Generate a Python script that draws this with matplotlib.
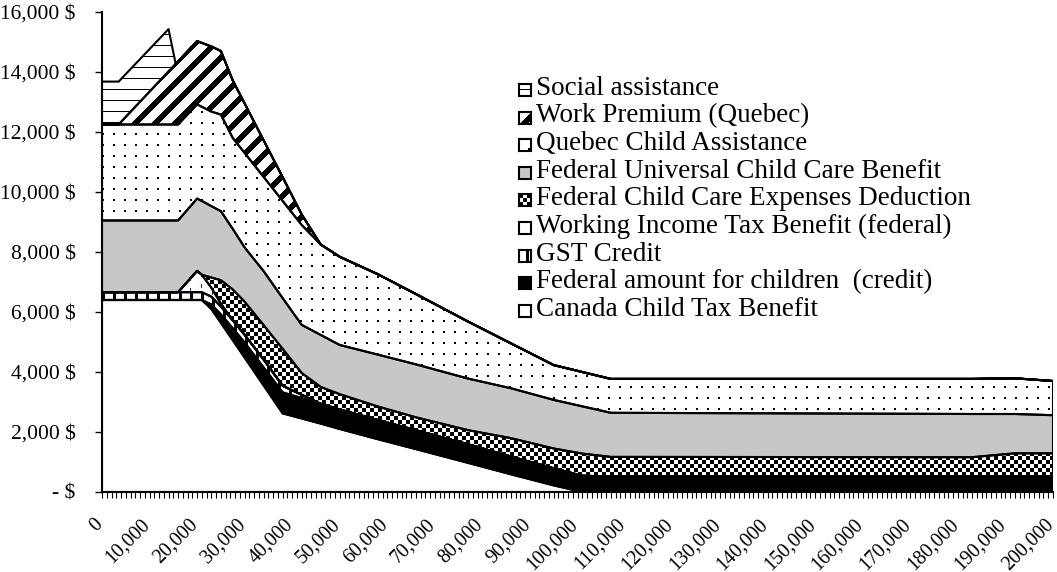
import numpy as np
import matplotlib
matplotlib.use("Agg")
import matplotlib.pyplot as plt
from matplotlib.patches import Polygon
from matplotlib.ticker import MultipleLocator, FuncFormatter
from matplotlib.transforms import ScaledTranslation

plt.rcParams["font.family"] = "Liberation Serif"

# family income ($) where the curves change slope
incomes = [0, 3500, 14000, 15500, 16000, 20000, 21000, 23000, 25000, 27500,
           30000, 34000, 38000, 42000, 46000, 50000, 58000, 66000, 77000,
           86000, 95000, 101000, 107000, 183000, 192000, 200000]

# benefits ($), from the bottom of the stack to the top
cctb = [6400, 6400, 6400, 6400, 6400, 6400, 6400, 6100, 5640, 5060,
        4480, 3550, 2620, 2450, 2280, 2100, 1760, 1430, 970,
        590, 220, 0, 0, 0, 0, 0]
fed_children = [0, 0, 0, 0, 0, 0, 0, 150, 280, 400,
                500, 600, 700, 680, 660, 650, 640, 630, 620,
                590, 570, 540, 520, 520, 520, 520]
gst = [260, 260, 260, 260, 260, 260, 260, 260, 260, 260,
       260, 260, 220, 110, 0, 0, 0, 0, 0,
       0, 0, 0, 0, 0, 0, 0]
witb = [0, 0, 0, 0, 0, 710, 580, 300, 100, 0,
        0, 0, 0, 0, 0, 0, 0, 0, 0,
        0, 0, 0, 0, 0, 0, 0]
child_care_ded = [0, 0, 0, 0, 0, 0, 0, 340, 780, 1030,
                  1100, 1150, 1230, 725, 560, 510, 450, 430, 470,
                  615, 660, 740, 650, 640, 770, 770]
uccb = [2390, 2390, 2390, 2390, 2390, 2410, 2460, 2380, 2300, 2020,
        1810, 1800, 1690, 1605, 1735, 1640, 1730, 1765, 1720,
        1663, 1620, 1575, 1470, 1440, 1310, 1270]
qc_child = [3200, 3200, 3200, 3200, 3200, 3140, 3140, 3150, 3220, 3030,
            3150, 3140, 3240, 3330, 3015, 2940, 2680, 2345, 1900,
            1497, 1160, 1145, 1130, 1170, 1190, 1140]
work_premium = [0, 0, 1770, 2020, 2105, 2110, 2130, 2170, 2120, 1920,
                1650, 1220, 790, 350, 0, 0, 0, 0, 0,
                0, 0, 0, 0, 0, 0, 0]
social_assist = [1430, 1430, 1410, 0, 0, 0, 0, 0, 0, 0,
                 0, 0, 0, 0, 0, 0, 0, 0, 0,
                 0, 0, 0, 0, 0, 0, 0]

series = [cctb, fed_children, gst, witb, child_care_ded, uccb, qc_child,
          work_premium, social_assist]
labels = ["Canada Child Tax Benefit", "Federal amount for children  (credit)",
          "GST Credit", "Working Income Tax Benefit (federal)",
          "Federal Child Care Expenses Deduction",
          "Federal Universal Child Care Benefit", "Quebec Child Assistance",
          "Work Premium (Quebec)", "Social assistance"]

W, H = 1057, 572
AX_L, AX_R, AX_T, AX_B = 102, 1053, 12, 492
PW, PH = AX_R - AX_L, AX_B - AX_T
GRAY = (0.784, 0.784, 0.784)


def pattern(kind, h, w, shift=0):
    """Excel-like fill pattern as an RGB pixel array."""
    r, c = np.mgrid[0:h, 0:w]
    img = np.ones((h, w, 3))
    if kind == "black":
        img[:] = 0
    elif kind == "gray":
        img[:] = GRAY
    elif kind == "vstripe":
        img[(c + shift) % 11 < 3] = 0
    elif kind == "purple":
        img[(c % 11 == 0) & ((r + 4 * (c // 11)) % 11 < 4)] = (0.5, 0, 0.5)
    elif kind == "checker":
        img[((r // 4) + (c // 4)) % 2 == 0] = 0
    elif kind == "dots":
        img[((r + shift) % 11 < 2) & ((c + shift) % 11 < 2)] = 0
    elif kind == "diag":
        img[(c + r + shift) % 20 < 8] = 0
    elif kind == "hline":
        img[(r + shift) % 11 == 0] = 0
    return img


styles = ["white", "black", "vstripe", "purple", "checker", "gray", "dots",
          "diag", "hline"]

fig = plt.figure(figsize=(W / 100, H / 100), dpi=100)
ax = fig.add_axes([AX_L / W, 1 - AX_B / H, PW / W, PH / H])
ax.set_xlim(0, 200000)
ax.set_ylim(0, 16000)

x = np.array(incomes, dtype=float)
lower = np.zeros_like(x)
outlines = []
for vals, st in zip(series, styles):
    upper = lower + np.array(vals, dtype=float)
    verts = np.vstack([np.column_stack([x, upper]),
                       np.column_stack([x[::-1], lower[::-1]])])
    poly = Polygon(verts, closed=True, facecolor="none", edgecolor="none")
    ax.add_patch(poly)
    im = ax.imshow(pattern(st, PH, PW), extent=(0, 200000, 0, 16000),
                   origin="upper", aspect="auto", interpolation="nearest",
                   zorder=1)
    im.set_clip_path(poly)
    outlines.append(verts)
    lower = upper

for verts in outlines:
    ax.add_patch(Polygon(verts, closed=True, facecolor="none",
                         edgecolor="black", lw=1.5, zorder=3,
                         joinstyle="round"))

for side in ["top", "right"]:
    ax.spines[side].set_visible(False)
for side in ["left", "bottom"]:
    ax.spines[side].set_linewidth(1.5)
    ax.spines[side].set_zorder(4)

ax.yaxis.set_major_locator(MultipleLocator(2000))
ax.yaxis.set_major_formatter(FuncFormatter(
    lambda v, p: "- $" if v == 0 else f"{v:,.0f} $"))
ax.tick_params(axis="y", direction="out", length=5, width=1, pad=14,
               labelsize=15.5)

ax.xaxis.set_major_locator(MultipleLocator(10000))
ax.xaxis.set_minor_locator(MultipleLocator(1000))
ax.xaxis.set_major_formatter(FuncFormatter(lambda v, p: f"{v:,.0f}"))
ax.tick_params(axis="x", which="both", direction="out", length=4, width=0.8)
ax.tick_params(axis="x", which="major", pad=19.5, labelsize=14.3)
nudge = ScaledTranslation(1 / 100, 0, fig.dpi_scale_trans)
for lab in ax.get_xticklabels():
    lab.set_rotation(45)
    lab.set_ha("right")
    lab.set_va("baseline")
    lab.set_rotation_mode("anchor")
    lab.set_transform(lab.get_transform() + nudge)

# legend, top entry first; icons show a corner of each fill pattern
icon_shift = {"diag": 8, "dots": 2, "vstripe": 4, "hline": 6}
for i, (lab, st) in enumerate(zip(labels[::-1], styles[::-1])):
    yc = 88.5 + 27.6 * i
    iax = fig.add_axes([519 / W, 1 - (yc + 7.5) / H, 12 / W, 12 / H])
    iax.imshow(pattern(st, 12, 12, icon_shift.get(st, 0)),
               interpolation="nearest", aspect="auto")
    iax.set_xticks([])
    iax.set_yticks([])
    for sp in iax.spines.values():
        sp.set_linewidth(1.5)
    fig.text(536 / W, 1 - yc / H, lab, ha="left", va="center", fontsize=19.5)

fig.savefig("out.png", dpi=100, facecolor="white")
